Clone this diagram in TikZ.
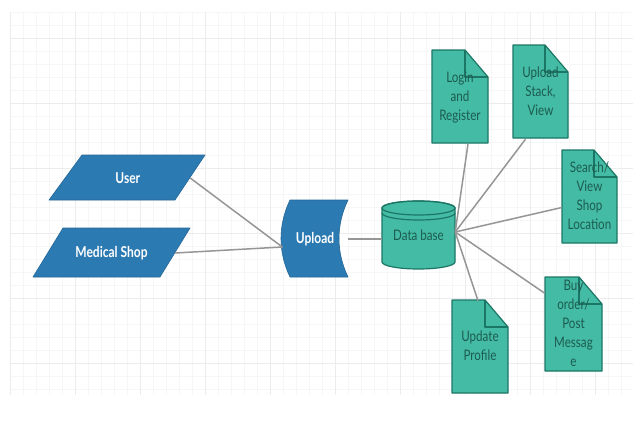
\documentclass[tikz,border=0pt]{standalone}
\usepackage{fontspec}
\setmainfont{Lato}
\usetikzlibrary{calc}
\definecolor{bluefill}{RGB}{44,122,178}
\definecolor{docfill}{RGB}{68,187,164}
\definecolor{docline}{RGB}{28,118,102}
\definecolor{doctext}{RGB}{28,92,80}
\definecolor{wirec}{RGB}{150,150,150}
\definecolor{gridminor}{RGB}{246,246,246}
\definecolor{gridmajor}{RGB}{236,236,236}
\newcommand{\sq}[1]{\scalebox{0.8}[1]{#1}}
\newcommand{\lines}[1]{\sq{\begin{tabular}{@{}c@{}}#1\end{tabular}}}
% name, x1, y1, x2, y2, text
\newcommand{\docbox}[6]{%
  \path[docshape] (#2,#3) -- (#4-23,#3) -- (#4,#3+27) -- (#4,#5) -- (#2,#5) -- cycle;
  \draw[docline, line width=1.2pt, line join=round] (#4-23,#3) -- (#4-23,#3+27) -- (#4,#3+27);
  \node[holder, dlabel, minimum width=#4-#2, minimum height=#5-#3] (#1) at ({(#2+#4)/2},{(#3+#5)/2+1}) {\lines{#6}};
}
\begin{document}
\begin{tikzpicture}[x=1pt,y=-1pt,
  shapefill/.style={fill=bluefill, draw=bluefill!85!black, line width=0.6pt, line join=round},
  docshape/.style={fill=docfill, draw=docline, line width=1.2pt, line join=round},
  holder/.style={inner sep=0pt, draw=none, shape=rectangle},
  wlabel/.style={text=white, font=\fontsize{15}{17}\selectfont\bfseries},
  dlabel/.style={text=doctext, font=\fontsize{14.5}{19}\selectfont},
  wire/.style={draw=wirec, line width=1.5pt}]
\useasboundingbox (0,0) rectangle (633,423);
\fill[white] (0,0) rectangle (633,423);
% grid
\foreach \x in {10,23,...,633} \draw[gridminor, line width=0.5pt] (\x,12) -- (\x,395);
\foreach \y in {12,25,...,395} \draw[gridminor, line width=0.5pt] (10,\y) -- (633,\y);
\foreach \x in {10,75,...,633} \draw[gridmajor, line width=0.6pt] (\x,12) -- (\x,395);
\foreach \y in {38,103,...,395} \draw[gridmajor, line width=0.6pt] (10,\y) -- (633,\y);

% User
\path[shapefill] (82,155) -- (205,155) -- (175,200) -- (49,200) -- cycle;
\node[holder, wlabel, minimum width=124.5, minimum height=45] (user) at (127.75,178) {\sq{User}};
% Medical Shop
\path[shapefill] (63,228) -- (190,228) -- (160,277) -- (33,277) -- cycle;
\node[holder, wlabel, minimum width=127, minimum height=49] (medshop) at (111.5,253) {\sq{Medical Shop}};
% Upload
\path[shapefill] (290,200) -- (348,200) .. controls (336,225) and (336,252) .. (348,277) -- (290,277) .. controls (278,252) and (278,225) .. (290,200) -- cycle;
\node[holder, wlabel, minimum width=65, minimum height=77] (upload) at (315,239) {\sq{Upload}};
% Data base
\path[docshape] (382,208) -- (382,262) arc[start angle=180, end angle=360, x radius=36.5pt, y radius=7pt] -- (455,208) arc[start angle=0, end angle=180, x radius=36.5pt, y radius=7pt] -- cycle;
\draw[docline, line width=1.2pt] (418.5,208) ellipse[x radius=36.5pt, y radius=7pt];
\draw[docline, line width=1.2pt] (382,213) arc[start angle=180, end angle=360, x radius=36.5pt, y radius=7pt];
\node[holder, dlabel, minimum width=73, minimum height=67] (db) at (418.5,235) {\sq{Data base}};

% documents
\docbox{login}{432}{50}{488}{143}{Login\\and\\Register}
\docbox{ustack}{513}{45}{568}{138}{Upload\\Stack,\\View}
\docbox{search}{562}{150}{617}{243}{Search/\\View\\Shop\\Location}
\docbox{buy}{545}{277}{602}{371}{Buy\\order/\\Post\\Messag\\e}
\docbox{update}{452}{300}{508}{393}{Update\\Profile}

% connectors
\draw[wire] (user.east) -- ([yshift=-8pt]upload.west);
\draw[wire] (medshop.east) -- ([yshift=-8pt]upload.west);
\draw[wire] (upload.east) -- (upload.east -| db.west);
\coordinate (hub) at ([yshift=3pt]db.east);
\draw[wire] (hub) -- ([xshift=8pt]login.south);
\draw[wire] (hub) -- ([xshift=-15pt]ustack.south);
\draw[wire] (hub) -- ([yshift=-10pt]search.west);
\draw[wire] (hub) -- ([yshift=-16pt]buy.north west);
\draw[wire] (hub) -- ([xshift=-2pt]update.north);
\end{tikzpicture}
\end{document}
